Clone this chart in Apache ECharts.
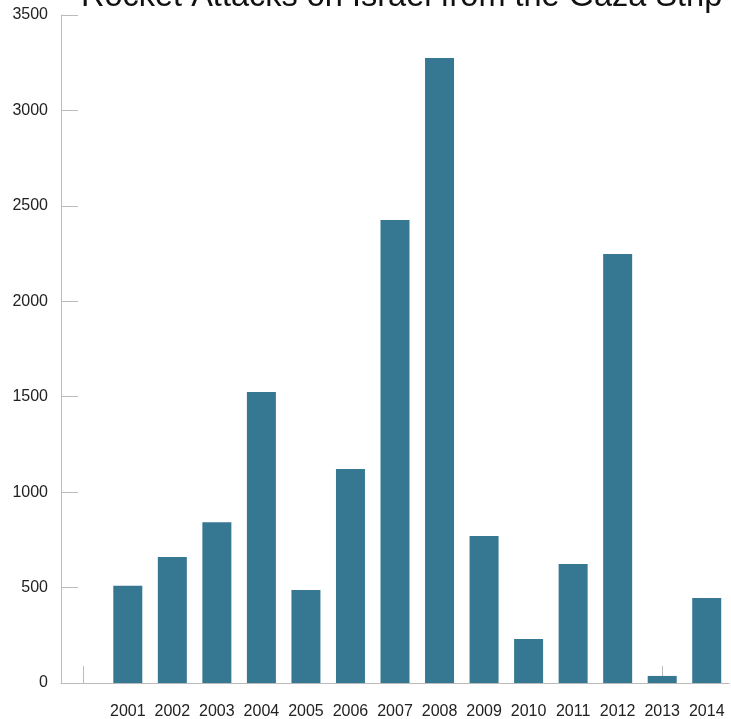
<!DOCTYPE html>
<html lang="en" style="height: 100%">

<head>
  <meta charset="utf-8">
</head>

<body style="height: 100%; margin: 0">
  <div id="container" style="height: 100%"></div>

  <script type="text/javascript" src="https://fastly.jsdelivr.net/npm/echarts@6.0.0/dist/echarts.min.js"></script>

  <script type="text/javascript">
    // first slot is left empty in the original chart
    var years = ['', '2001', '2002', '2003', '2004', '2005', '2006', '2007',
      '2008', '2009', '2010', '2011', '2012', '2013', '2014'];
    var rockets = [null, 510, 660, 842, 1525, 487, 1121, 2426,
      3275, 770, 231, 624, 2248, 37, 445];
    var yTicks = [0, 500, 1000, 1500, 2000, 2500, 3000, 3500];

    var dom = document.getElementById('container');
    var myChart = echarts.init(dom, null, {
      renderer: 'canvas',
      useDirtyRect: false
    });

    var option = {
      title: {
        text: 'Rocket Attacks on Israel from the Gaza Strip',
        left: 76,
        top: -24,
        textStyle: {
          fontFamily: 'Liberation Sans',
          fontSize: 32.5,
          fontWeight: 'normal',
          color: '#111'
        }
      },
      grid: {
        left: 61,
        right: 2,
        top: 15,
        bottom: 36,
        containLabel: false,
        outerBoundsMode: 'none'
      },
      xAxis: {
        type: 'category',
        data: years,
        boundaryGap: true,
        axisLine: { lineStyle: { color: '#bbb', width: 1 } },
        axisTick: {
          show: true,
          alignWithLabel: true,
          inside: true,
          length: 17,
          interval: 0,
          lineStyle: { color: '#bbb' }
        },
        axisLabel: {
          margin: 21,
          fontFamily: 'Liberation Sans',
          fontSize: 16,
          color: '#222',
          interval: 0
        }
      },
      yAxis: {
        type: 'value',
        min: yTicks[0],
        max: yTicks[yTicks.length - 1],
        interval: 500,
        axisLine: { show: true, lineStyle: { color: '#bbb', width: 1 } },
        axisTick: {
          show: true,
          inside: true,
          length: 17,
          lineStyle: { color: '#bbb' }
        },
        splitLine: { show: false },
        axisLabel: {
          margin: 13,
          fontFamily: 'Liberation Sans',
          fontSize: 16,
          color: '#222',
          formatter: function (v) { return String(v); }
        }
      },
      series: [{
        type: 'bar',
        data: rockets,
        barWidth: 29,
        itemStyle: { color: '#367891' }
      }]
    };

    myChart.setOption(option);
    window.addEventListener('resize', myChart.resize);
  </script>
</body>

</html>
